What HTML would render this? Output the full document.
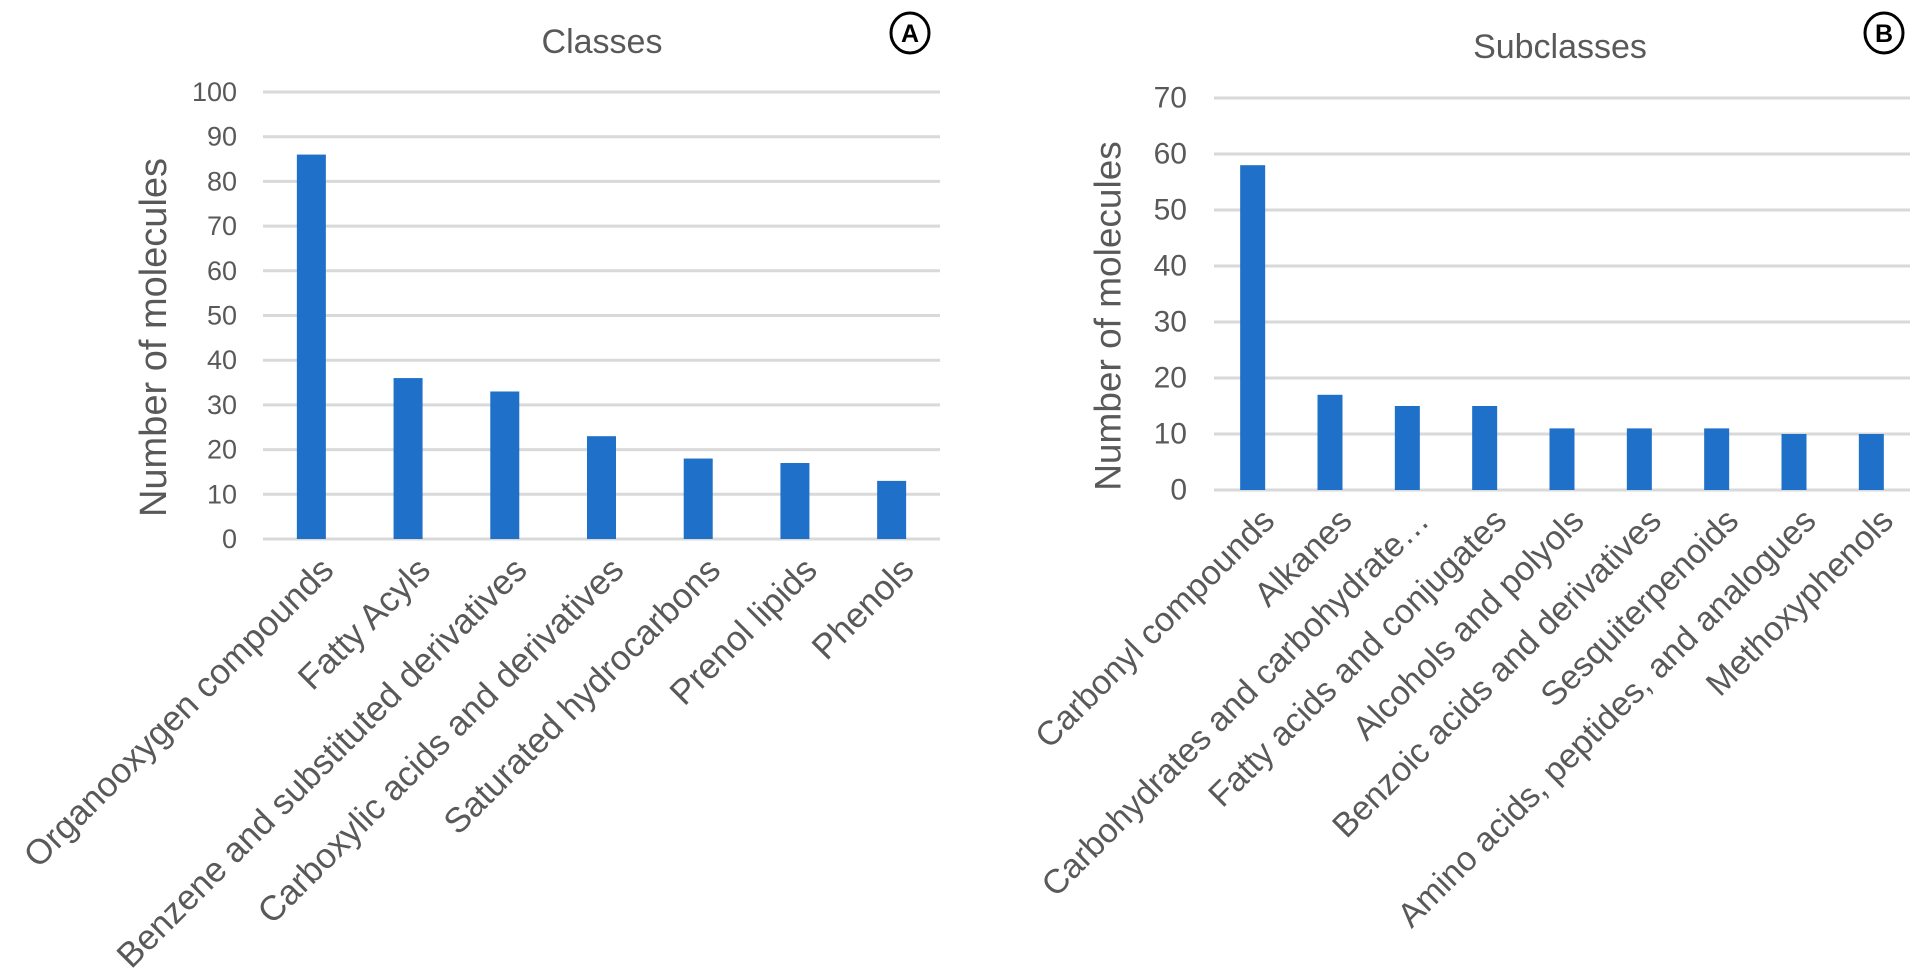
<!DOCTYPE html>
<html><head><meta charset="utf-8"><style>
html,body{margin:0;padding:0;background:#fff;}
svg{display:block;font-family:"Liberation Sans",Arial,sans-serif;}
</style></head><body>
<svg id="fig" width="1920" height="971" viewBox="0 0 1920 971">
<g id="chartA"></g>
<g id="chartB"></g>
<g>
<ellipse cx="910" cy="33" rx="19" ry="20" fill="none" stroke="#000" stroke-width="3"/>
<text x="910" y="42" font-size="25" font-weight="bold" text-anchor="middle" fill="#000">A</text>
</g>
<g>
<ellipse cx="1884" cy="33" rx="19" ry="20" fill="none" stroke="#000" stroke-width="3"/>
<text x="1884" y="42" font-size="25" font-weight="bold" text-anchor="middle" fill="#000">B</text>
</g>
</svg>
<script>
const classCats = ["Organooxygen compounds","Fatty Acyls","Benzene and substituted derivatives","Carboxylic acids and derivatives","Saturated hydrocarbons","Prenol lipids","Phenols"];
const classVals = [86,36,33,23,18,17,13];
const classTicks = [0,10,20,30,40,50,60,70,80,90,100];
const subCats = ["Carbonyl compounds","Alkanes","Carbohydrates and carbohydrate…","Fatty acids and conjugates","Alcohols and polyols","Benzoic acids and derivatives","Sesquiterpenoids","Amino acids, peptides, and analogues","Methoxyphenols"];
const subVals = [58,17,15,15,11,11,11,10,10];
const subTicks = [0,10,20,30,40,50,60,70];

const NS = "http://www.w3.org/2000/svg";
function mk(tag, attrs, parent){
  const e = document.createElementNS(NS, tag);
  for (const k in attrs) e.setAttribute(k, attrs[k]);
  parent.appendChild(e);
  return e;
}
function draw(g, cfg, cats, vals, ticks){
  const ymax = ticks[ticks.length-1];
  const y = v => cfg.y0 - (v/ymax)*(cfg.y0 - cfg.y1);
  const step = (cfg.x1 - cfg.x0)/cats.length;
  const x = i => cfg.x0 + step*(i+0.5);
  ticks.forEach(t => {
    const l = mk('line', {x1:cfg.x0, x2:cfg.x1, y1:y(t), y2:y(t), stroke:'#d9d9d9', 'stroke-width':3}, g);
    
    
    const tx = mk('text', {x:cfg.tickX, y:y(t), 'font-size':cfg.tickFs, fill:'#595959', 'text-anchor':'end', 'dominant-baseline':'central'}, g);
    tx.textContent = t;
    
    
  });
  vals.forEach((v,i) => {
    const r = mk('rect', {x:x(i)-cfg.bw/2, y:y(v), width:cfg.bw, height:y(0)-y(v), fill:'#1f70c8'}, g);
    
    
  });
  cats.forEach((c,i) => {
    const ax = x(i)+16, ay = cfg.y0+25;
    const t = mk('text', {x:ax, y:ay, 'font-size':cfg.labFs, fill:'#595959', 'text-anchor':'end', 'dominant-baseline':'central', transform:`rotate(-45 ${ax} ${ay})`}, g);
    t.textContent = c;
    
    
  });
  const ti = mk('text', {x:cfg.titleX, y:cfg.titleY, 'font-size':34, fill:'#595959', 'text-anchor':'middle', 'dominant-baseline':'central'}, g);
  ti.textContent = cfg.title;
  
  
  const cy = (cfg.y0 + cfg.y1)/2 + cfg.ytOff;
  const yt = mk('text', {x:cfg.ytX, y:cy, 'font-size':cfg.ytFs, fill:'#595959', 'text-anchor':'middle', 'dominant-baseline':'central', transform:`rotate(-90 ${cfg.ytX} ${cy})`}, g);
  yt.textContent = 'Number of molecules';
  
  
}
draw(document.getElementById('chartA'),
  {x0:263, x1:940, y0:539, y1:92, bw:29, tickX:237, tickFs:27, labFs:35, title:'Classes', titleX:602, titleY:42, ytX:154, ytFs:38, ytOff:22},
  classCats, classVals, classTicks);
draw(document.getElementById('chartB'),
  {x0:1214, x1:1910, y0:490, y1:98, bw:25, tickX:1187, tickFs:30, labFs:34, title:'Subclasses', titleX:1560, titleY:47, ytX:1108, ytFs:37, ytOff:22},
  subCats, subVals, subTicks);
</script>
</body></html>
